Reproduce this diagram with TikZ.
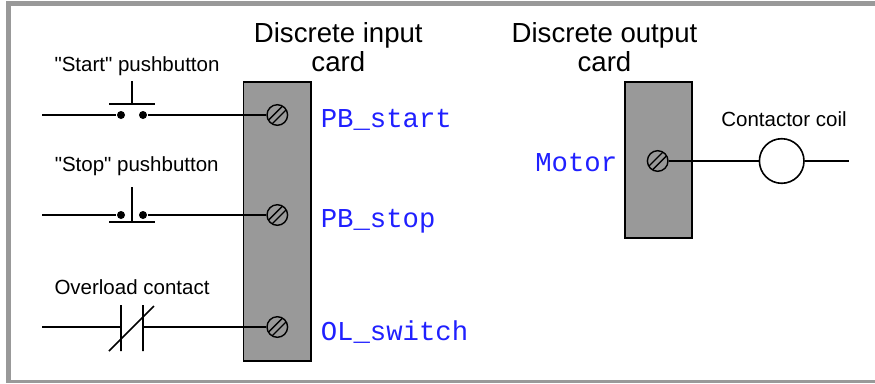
\documentclass[tikz,border=0pt]{standalone}
\usepackage{fontspec}
\setmainfont{Liberation Sans}[Ligatures=TeXOff]
\setmonofont{Liberation Mono}
\definecolor{cardgray}{gray}{0.6}
\definecolor{tagblue}{RGB}{32,32,255}

\begin{document}
\begin{tikzpicture}[x=1pt, y=-1pt, line width=1.6pt,
    card/.style={draw, fill=cardgray, inner sep=0pt},
    screw/.style={circle, draw, inner sep=0pt, minimum size=20.6pt, line width=1.4pt,
      path picture={\draw[line width=1.3pt, shift={(path picture bounding box.center)}]
        (-6.65,10.33) -- (10.33,-6.65) (-10.33,6.65) -- (6.65,-10.33);}},
    dot/.style={circle, fill, inner sep=0pt, minimum size=8pt},
    coil/.style={circle, draw, inner sep=0pt, minimum size=44.6pt},
    smalltext/.style={font=\fontsize{20.5}{24}\selectfont, anchor=base, inner sep=0pt},
    title/.style={font=\fontsize{27.6}{28.4}\selectfont, align=center, anchor=north, inner sep=0pt},
    tag/.style={font=\fontsize{27.3}{30}\selectfont\ttfamily, text=tagblue, inner sep=0pt}]
    \useasboundingbox (0,0) rectangle (875,383);
    % frame
    \fill[cardgray] (6,1) rectangle (875,6);
    \fill[cardgray] (6,1) rectangle (11,383);
    \fill[cardgray] (11,380) rectangle (875,383);
    % cards
    \node[card, minimum width=67.5pt, minimum height=279pt] (incard) at (277.3,221.5) {};
    \node[card, minimum width=67pt, minimum height=156.5pt] (outcard) at (658.5,160) {};
    \node[title] (intitle) at (338.3,22) {Discrete input\\card};
    \node[title] (outtitle) at (604.5,22) {Discrete output\\card};
    % terminals
    \node[screw] (s1) at (277.3,115) {};
    \node[screw] (s2) at (277.3,215) {};
    \node[screw] (s3) at (277.3,327) {};
    \node[screw] (s4) at (657.7,161) {};
    \node[tag, anchor=base west] (tstart) at (320,127.5) {PB\_start};
    \node[tag, anchor=base west] (tstop) at (320,227.7) {PB\_stop};
    \node[tag, anchor=base west] (tol) at (320,340) {OL\_switch};
    \node[tag, anchor=base east] (tmotor) at (618,171.7) {Motor};
    % start pushbutton
    \node[smalltext] (startlbl) at (137,71) {"Start" pushbutton};
    \coordinate (w1) at (42,115);
    \node[dot] (a1) at (121,115) {};
    \node[dot] (b1) at (143,115) {};
    \draw (w1) -- (a1);
    \draw (b1) -- (s1);
    \draw (109,104) -- (155,104) (132,81) -- (132,104);
    % stop pushbutton
    \node[smalltext] (stoplbl) at (136.7,171.7) {"Stop" pushbutton};
    \coordinate (w2) at (42,215);
    \node[dot] (a2) at (121,215) {};
    \node[dot] (b2) at (143,215) {};
    \draw (w2) -- (a2);
    \draw (b2) -- (s2);
    \draw (109,222) -- (155,222) (132,187) -- (132,222);
    % overload contact
    \node[smalltext] (ollbl) at (132,294.3) {Overload contact};
    \coordinate (w3) at (42,327);
    \coordinate (c3) at (121,327);
    \coordinate (d3) at (143,327);
    \draw (w3) -- (c3);
    \draw (d3) -- (s3);
    \draw (121,305) -- (121,351) (143,305) -- (143,351) (109,351) -- (154,306);
    % contactor coil
    \node[smalltext] (coillbl) at (784,126.7) {Contactor coil};
    \node[coil] (coil) at (781.7,161) {};
    \coordinate (w4) at (849,161);
    \draw (s4) -- (coil);
    \draw (coil) -- (w4);
\end{tikzpicture}
\end{document}
